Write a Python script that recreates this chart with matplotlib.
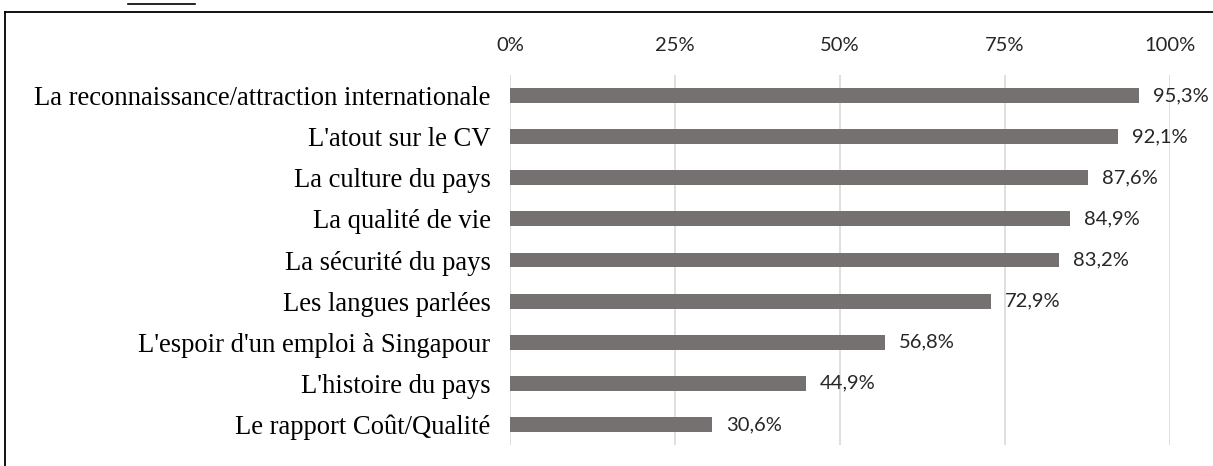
import matplotlib.pyplot as plt
from matplotlib.lines import Line2D

# data
categories = ["La reconnaissance/attraction internationale", "L'atout sur le CV",
              "La culture du pays", "La qualité de vie", "La sécurité du pays",
              "Les langues parlées", "L'espoir d'un emploi à Singapour",
              "L'histoire du pays", "Le rapport Coût/Qualité"]
values = [95.3, 92.1, 87.6, 84.9, 83.2, 72.9, 56.8, 44.9, 30.6]
tick_vals = [0, 25, 50, 75, 100]
tick_labels = ["0%", "25%", "50%", "75%", "100%"]

fig = plt.figure(figsize=(12.13, 4.66), dpi=100)
ax = fig.add_axes([510 / 1213, 1 - 445 / 466, 660 / 1213, 370 / 466])

pos = list(range(len(categories)))
ax.barh(pos, values, height=0.36, color="#767171", zorder=3)
ax.set_ylim(8.5, -0.5)
ax.set_xlim(0, 100)

ax.set_xticks(tick_vals)
ax.set_xticklabels(tick_labels, fontsize=14.5, family="Lato", color="#262626")
ax.xaxis.tick_top()
ax.tick_params(axis="x", length=0, pad=15)
ax.set_yticks(pos)
ax.set_yticklabels(categories, fontsize=19.2, family="Liberation Serif")
ax.tick_params(axis="y", length=0, pad=14)
ax.grid(axis="x", color="#d9d9d9", linewidth=1.2, zorder=0)
for s in ax.spines.values():
    s.set_visible(False)

# value labels
for p, v in zip(pos, values):
    ax.annotate(f"{v:.1f}%".replace(".", ","), (v, p), xytext=(10, 0),
                textcoords="offset points", va="center", ha="left",
                fontsize=14.5, family="Lato", color="#262626", annotation_clip=False)

# frame of the original figure box (cut at right and bottom)
fig.add_artist(Line2D([5 / 1213, 5 / 1213], [0, 1 - 12 / 466], transform=fig.transFigure,
                      color="black", linewidth=1.3))
fig.add_artist(Line2D([5 / 1213, 1], [1 - 12 / 466, 1 - 12 / 466], transform=fig.transFigure,
                      color="black", linewidth=1.3))

# underline of the cropped caption above the frame
fig.add_artist(Line2D([128 / 1213, 195 / 1213], [1 - 4 / 466, 1 - 4 / 466],
                      transform=fig.transFigure, color="black", linewidth=1.2))

fig.savefig("out.png", dpi=100)
